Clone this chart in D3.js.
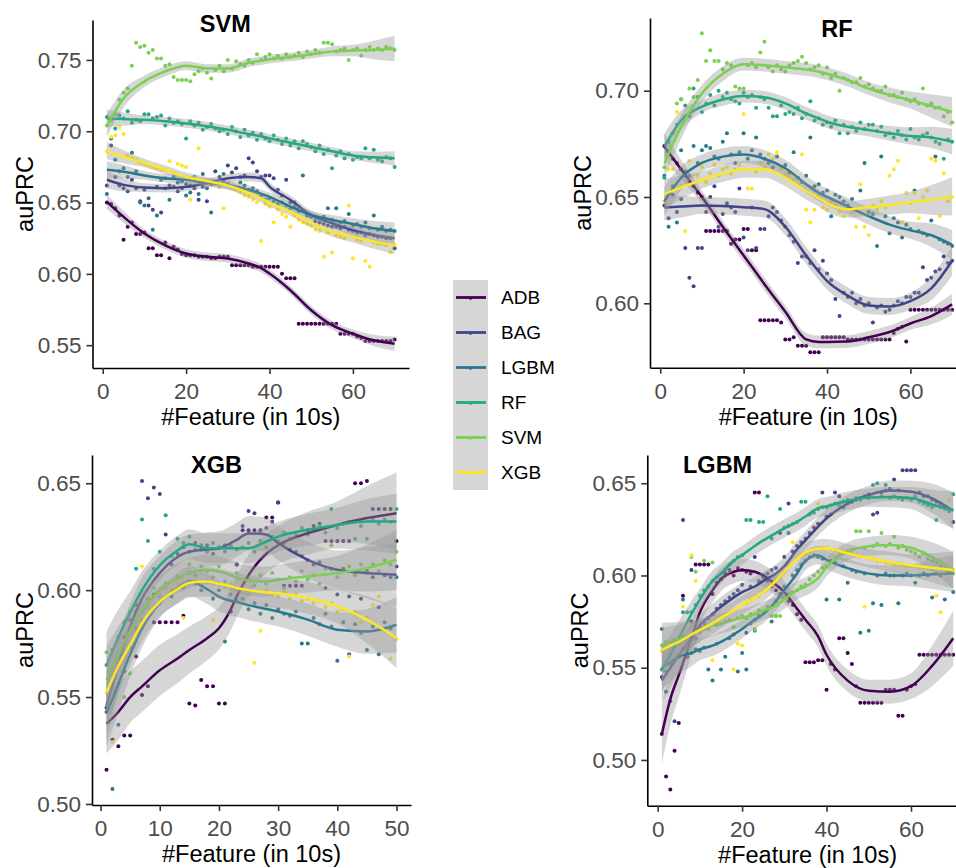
<!DOCTYPE html>
<html>
<head>
<meta charset="utf-8">
<script src="https://cdn.jsdelivr.net/npm/d3@7"></script>
<style>
  body { margin: 0; background: #fff; }
  svg { display: block; font-family: 'Liberation Sans', Arial, sans-serif; }
</style>
</head>
<body>
<div id="chart"></div>
<script>
// model names and their viridis colours
const series = ['ADB', 'BAG', 'LGBM', 'RF', 'SVM', 'XGB']
const colors = ['#440154', '#414487', '#2A788E', '#22A884', '#7AD151', '#FDE725']

// ---------- SVM panel: auPRC per #feature (1..70) ----------
const svmPoints = {
  ADB: [0.650,0.649,0.646,0.641,0.624,0.633,0.636,0.628,0.628,0.629,
        0.618,0.618,0.613,0.613,0.622,0.611,0.619,0.617,0.614,0.613,
        0.613,0.613,0.612,0.612,0.612,0.611,0.611,0.612,0.612,0.612,
        0.606,0.606,0.606,0.606,0.606,0.605,0.605,0.605,0.605,0.605,
        0.605,0.605,0.600,0.597,0.597,0.597,0.565,0.565,0.565,0.565,
        0.565,0.565,0.565,0.565,0.565,0.565,0.558,0.558,0.558,0.558,
        0.556,0.555,0.553,0.553,0.553,0.553,0.553,0.553,0.553,0.554],
  BAG: [0.662,0.690,0.668,0.662,0.660,0.658,0.666,0.660,0.651,0.659,
        0.648,0.645,0.661,0.643,0.660,0.662,0.661,0.658,0.660,0.663,
        0.662,0.660,0.652,0.661,0.651,0.663,0.672,0.668,0.665,0.676,
        0.671,0.674,0.668,0.669,0.681,0.678,0.672,0.668,0.669,0.669,
        0.667,0.659,0.655,0.666,0.650,0.650,0.647,0.644,0.641,0.640,
        0.637,0.636,0.635,0.634,0.633,0.633,0.632,0.633,0.631,0.630,
        0.629,0.629,0.627,0.628,0.627,0.626,0.626,0.625,0.625,0.618],
  LGBM: [0.656,0.695,0.680,0.672,0.674,0.668,0.685,0.672,0.650,0.648,
        0.653,0.631,0.641,0.666,0.667,0.652,0.668,0.664,0.665,0.655,
        0.657,0.668,0.656,0.670,0.660,0.643,0.664,0.661,0.670,0.663,
        0.661,0.660,0.664,0.662,0.659,0.660,0.658,0.655,0.652,0.653,
        0.651,0.649,0.650,0.648,0.646,0.647,0.644,0.669,0.642,0.641,
        0.640,0.639,0.640,0.646,0.638,0.646,0.636,0.637,0.642,0.634,
        0.635,0.633,0.636,0.632,0.641,0.631,0.633,0.630,0.631,0.630],
  RF: [0.710,0.708,0.702,0.711,0.709,0.714,0.706,0.708,0.707,0.712,
        0.712,0.709,0.710,0.711,0.704,0.709,0.706,0.707,0.705,0.695,
        0.707,0.704,0.706,0.701,0.703,0.705,0.702,0.700,0.701,0.698,
        0.703,0.700,0.696,0.701,0.697,0.699,0.694,0.698,0.695,0.693,
        0.697,0.694,0.691,0.695,0.690,0.693,0.688,0.693,0.691,0.689,
        0.686,0.690,0.684,0.687,0.674,0.683,0.686,0.681,0.684,0.680,
        0.682,0.681,0.688,0.681,0.687,0.680,0.679,0.682,0.681,0.675],
  SVM: [0.704,0.708,0.712,0.722,0.727,0.730,0.746,0.762,0.759,0.760,
        0.755,0.757,0.751,0.751,0.746,0.747,0.738,0.736,0.736,0.736,
        0.735,0.740,0.742,0.744,0.741,0.737,0.743,0.746,0.742,0.750,
        0.744,0.749,0.747,0.746,0.750,0.748,0.754,0.750,0.752,0.754,
        0.751,0.753,0.751,0.754,0.752,0.753,0.755,0.752,0.756,0.754,
        0.757,0.755,0.762,0.762,0.761,0.756,0.757,0.758,0.750,0.757,
        0.758,0.753,0.757,0.759,0.757,0.758,0.757,0.759,0.758,0.757],
  XGB: [0.686,0.696,0.697,0.703,0.698,0.683,0.681,0.680,0.678,0.677,
        0.676,0.675,0.674,0.673,0.673,0.679,0.671,0.677,0.676,0.675,
        0.652,0.667,0.688,0.666,0.665,0.664,0.663,0.661,0.646,0.662,
        0.660,0.659,0.657,0.655,0.654,0.652,0.650,0.623,0.649,0.647,
        0.636,0.645,0.642,0.640,0.633,0.641,0.638,0.636,0.635,0.634,
        0.631,0.630,0.612,0.629,0.615,0.627,0.626,0.625,0.648,0.611,
        0.624,0.623,0.609,0.605,0.622,0.621,0.621,0.620,0.615,0.620]
}
// smoothed fit read at these feature counts
const svmKnots = [1,5,10,15,20,25,30,35,38,40,45,50,55,60,65,70]
const svmFit = {
  ADB: [0.6505,0.640,0.6283,0.620,0.6143,0.612,0.6108,0.6073,0.604,0.6002,0.5885,0.5745,0.564,0.558,0.5534,0.551],
  BAG: [0.666,0.6624,0.6605,0.660,0.661,0.6636,0.667,0.668,0.667,0.6612,0.6518,0.6413,0.6355,0.6308,0.6273,0.625],
  LGBM: [0.673,0.6716,0.669,0.667,0.6659,0.664,0.6624,0.659,0.656,0.654,0.6472,0.6413,0.6378,0.635,0.632,0.630],
  RF: [0.709,0.7085,0.708,0.707,0.7055,0.7035,0.701,0.698,0.6965,0.695,0.692,0.689,0.686,0.683,0.6817,0.681],
  SVM: [0.704,0.723,0.735,0.742,0.746,0.744,0.744,0.748,0.7495,0.7505,0.752,0.754,0.756,0.7566,0.757,0.758],
  XGB: [0.6864,0.682,0.6778,0.673,0.668,0.665,0.662,0.6567,0.653,0.650,0.6437,0.6357,0.6296,0.626,0.6226,0.620]
}
// half width of the confidence band
const svmSeKnots = [1,10,20,35,50,60,70]
const svmSe = {
  ADB: [0.005,0.003,0.003,0.003,0.003,0.003,0.005],
  BAG: [0.006,0.003,0.003,0.003,0.003,0.004,0.006],
  LGBM: [0.006,0.003,0.003,0.003,0.003,0.004,0.006],
  RF: [0.006,0.003,0.003,0.003,0.003,0.003,0.005],
  SVM: [0.008,0.004,0.003,0.003,0.003,0.004,0.009],
  XGB: [0.006,0.003,0.003,0.003,0.003,0.004,0.006]
}

// ---------- RF panel ----------
const rfPoints = {
  ADB: [0.674,0.671,0.668,0.666,0.663,0.660,0.657,0.655,0.652,0.650,
        0.634,0.634,0.634,0.634,0.634,0.634,0.628,0.630,0.630,0.635,
        0.635,0.625,0.625,0.592,0.592,0.592,0.592,0.592,0.591,0.583,
        0.583,0.584,0.580,0.580,0.580,0.577,0.577,0.577,0.584,0.584,
        0.584,0.584,0.584,0.584,0.583,0.583,0.583,0.583,0.583,0.583,
        0.583,0.583,0.583,0.583,0.583,0.586,0.588,0.589,0.582,0.597,
        0.597,0.597,0.597,0.597,0.597,0.597,0.597,0.597,0.597,0.597],
  BAG: [0.646,0.640,0.651,0.643,0.649,0.626,0.612,0.608,0.626,0.626,
        0.643,0.650,0.655,0.636,0.642,0.647,0.645,0.643,0.654,0.631,
        0.625,0.645,0.626,0.635,0.635,0.641,0.645,0.643,0.639,0.636,
        0.632,0.629,0.619,0.622,0.622,0.619,0.625,0.616,0.620,0.614,
        0.611,0.602,0.594,0.605,0.603,0.605,0.600,0.602,0.599,0.600,
        0.591,0.598,0.599,0.596,0.597,0.599,0.601,0.600,0.603,0.603,
        0.605,0.605,0.617,0.611,0.612,0.615,0.616,0.622,0.619,0.620],
  LGBM: [0.660,0.636,0.655,0.638,0.672,0.662,0.660,0.674,0.666,0.672,
        0.674,0.673,0.669,0.668,0.676,0.680,0.670,0.666,0.671,0.680,
        0.668,0.672,0.678,0.670,0.668,0.666,0.664,0.669,0.663,0.665,
        0.661,0.671,0.659,0.657,0.660,0.678,0.655,0.656,0.652,0.653,
        0.641,0.651,0.650,0.648,0.646,0.649,0.644,0.653,0.666,0.643,
        0.642,0.627,0.669,0.641,0.633,0.640,0.638,0.631,0.637,0.635,
        0.653,0.634,0.633,0.632,0.639,0.669,0.630,0.629,0.628,0.627],
  RF: [0.659,0.676,0.680,0.684,0.696,0.693,0.688,0.701,0.697,0.690,
        0.694,0.698,0.693,0.700,0.697,0.699,0.696,0.695,0.694,0.699,
        0.697,0.698,0.692,0.697,0.696,0.692,0.688,0.688,0.693,0.689,
        0.690,0.689,0.692,0.687,0.689,0.695,0.686,0.687,0.684,0.685,
        0.683,0.686,0.680,0.684,0.680,0.683,0.681,0.685,0.682,0.684,
        0.684,0.681,0.683,0.679,0.680,0.678,0.681,0.679,0.677,0.682,
        0.678,0.677,0.679,0.680,0.678,0.676,0.675,0.668,0.677,0.676],
  SVM: [0.664,0.670,0.680,0.694,0.696,0.688,0.701,0.697,0.705,0.727,
        0.714,0.719,0.714,0.714,0.710,0.713,0.712,0.702,0.701,0.701,
        0.712,0.713,0.711,0.718,0.723,0.711,0.709,0.712,0.710,0.709,
        0.712,0.713,0.714,0.716,0.713,0.710,0.711,0.712,0.708,0.711,
        0.706,0.708,0.700,0.706,0.705,0.704,0.704,0.706,0.702,0.703,
        0.701,0.700,0.700,0.702,0.698,0.698,0.697,0.699,0.696,0.695,
        0.696,0.694,0.701,0.693,0.694,0.692,0.692,0.688,0.690,0.685],
  XGB: [0.648,0.663,0.663,0.690,0.655,0.634,0.667,0.656,0.660,0.664,
        0.657,0.661,0.665,0.660,0.663,0.664,0.661,0.663,0.665,0.689,
        0.654,0.654,0.662,0.666,0.664,0.670,0.668,0.671,0.663,0.661,
        0.660,0.658,0.656,0.670,0.644,0.638,0.644,0.651,0.645,0.644,
        0.648,0.646,0.643,0.641,0.645,0.643,0.636,0.656,0.636,0.632,
        0.646,0.644,0.648,0.645,0.660,0.663,0.667,0.638,0.652,0.647,
        0.652,0.640,0.650,0.653,0.668,0.667,0.641,0.661,0.648,0.650]
}
const rfKnots = [1,5,10,15,20,25,30,35,38,40,45,50,55,60,65,70]
const rfFit = {
  ADB: [0.6737,0.663,0.650,0.636,0.6225,0.609,0.596,0.583,0.5818,0.5818,0.582,0.584,0.5865,0.5905,0.594,0.5995],
  BAG: [0.645,0.6455,0.646,0.6458,0.6452,0.6443,0.636,0.6225,0.615,0.6105,0.6036,0.599,0.5985,0.601,0.607,0.620],
  LGBM: [0.648,0.659,0.666,0.669,0.670,0.668,0.6635,0.656,0.652,0.650,0.6455,0.641,0.637,0.6343,0.632,0.6275],
  RF: [0.6737,0.686,0.6925,0.6959,0.6975,0.6969,0.694,0.6893,0.687,0.6854,0.683,0.6815,0.680,0.6787,0.678,0.676],
  SVM: [0.6658,0.683,0.6987,0.708,0.7125,0.712,0.711,0.710,0.709,0.708,0.705,0.701,0.698,0.6956,0.6928,0.690],
  XGB: [0.6514,0.6545,0.658,0.661,0.663,0.663,0.659,0.6528,0.6495,0.647,0.6442,0.6452,0.6462,0.6475,0.6487,0.6503]
}
const rfSeKnots = [1,10,20,35,50,60,70]
const rfSe = {
  ADB: [0.006,0.003,0.003,0.003,0.003,0.003,0.005],
  BAG: [0.006,0.004,0.004,0.004,0.004,0.004,0.007],
  LGBM: [0.007,0.004,0.004,0.004,0.004,0.004,0.007],
  RF: [0.006,0.003,0.003,0.003,0.003,0.004,0.006],
  SVM: [0.007,0.004,0.003,0.003,0.003,0.004,0.007],
  XGB: [0.007,0.004,0.004,0.004,0.004,0.005,0.009]
}

// ---------- XGB panel (1..50) ----------
const xgbPoints = {
  ADB: [0.516,0.530,0.527,0.532,0.532,0.569,0.551,0.555,0.585,0.585,
        0.585,0.585,0.585,0.588,0.547,0.546,0.558,0.555,0.555,0.547,
        0.547,0.590,0.612,0.628,0.628,0.628,0.628,0.634,0.634,0.641,
        0.602,0.602,0.602,0.602,0.628,0.630,0.631,0.623,0.623,0.623,
        0.623,0.623,0.650,0.650,0.651,0.638,0.638,0.638,0.638,0.623],
  BAG: [0.545,0.558,0.570,0.578,0.586,0.593,0.651,0.643,0.648,0.645,
        0.626,0.612,0.617,0.620,0.618,0.622,0.619,0.621,0.617,0.620,
        0.621,0.620,0.612,0.630,0.637,0.636,0.627,0.629,0.632,0.641,
        0.622,0.619,0.618,0.616,0.614,0.612,0.613,0.601,0.610,0.598,
        0.610,0.597,0.608,0.596,0.609,0.606,0.592,0.607,0.606,0.611],
  LGBM: [0.543,0.507,0.537,0.562,0.573,0.582,0.590,0.592,0.598,0.594,
        0.601,0.597,0.606,0.602,0.608,0.603,0.600,0.604,0.596,0.600,
        0.576,0.598,0.595,0.596,0.591,0.594,0.589,0.593,0.587,0.591,
        0.589,0.588,0.590,0.575,0.575,0.587,0.584,0.589,0.583,0.567,
        0.585,0.570,0.584,0.580,0.572,0.583,0.570,0.585,0.582,0.606],
  RF: [0.565,0.572,0.578,0.585,0.590,0.610,0.633,0.623,0.610,0.618,
        0.635,0.616,0.624,0.622,0.625,0.619,0.621,0.618,0.622,0.620,
        0.618,0.621,0.619,0.620,0.622,0.618,0.623,0.620,0.625,0.623,
        0.627,0.624,0.626,0.629,0.626,0.628,0.630,0.627,0.638,0.629,
        0.631,0.632,0.624,0.630,0.624,0.633,0.631,0.633,0.632,0.638],
  SVM: [0.571,0.572,0.566,0.550,0.561,0.590,0.586,0.596,0.601,0.597,
        0.603,0.600,0.606,0.601,0.612,0.607,0.611,0.609,0.606,0.611,
        0.604,0.603,0.608,0.601,0.605,0.602,0.607,0.603,0.608,0.605,
        0.601,0.606,0.604,0.609,0.605,0.607,0.603,0.610,0.621,0.606,
        0.609,0.611,0.607,0.612,0.608,0.612,0.609,0.614,0.612,0.618],
  XGB: [0.552,0.529,0.566,0.575,0.580,0.588,0.611,0.592,0.597,0.598,
        0.601,0.600,0.603,0.587,0.604,0.605,0.602,0.604,0.586,0.603,
        0.601,0.603,0.600,0.601,0.598,0.566,0.581,0.600,0.598,0.597,
        0.599,0.596,0.598,0.595,0.596,0.594,0.595,0.592,0.594,0.590,
        0.591,0.569,0.590,0.585,0.587,0.593,0.597,0.581,0.568,0.577]
}
const xgbKnots = [1,3,5,7,10,13,15,18,20,22,23,25,28,30,35,40,45,50]
const xgbFit = {
  ADB: [0.5375,0.543,0.550,0.555,0.5625,0.568,0.572,0.5775,0.5822,0.591,0.597,0.607,0.617,0.621,0.6266,0.6305,0.6337,0.636],
  BAG: [0.546,0.565,0.583,0.596,0.608,0.6155,0.618,0.619,0.6195,0.622,0.6235,0.6265,0.626,0.622,0.6142,0.6095,0.608,0.6072],
  LGBM: [0.5425,0.556,0.570,0.582,0.594,0.601,0.604,0.6005,0.597,0.595,0.5945,0.593,0.5912,0.590,0.5862,0.5815,0.5807,0.5838],
  RF: [0.5645,0.578,0.5895,0.600,0.6115,0.6185,0.6215,0.6196,0.6196,0.6196,0.6196,0.6196,0.6227,0.625,0.6282,0.6305,0.6321,0.6321],
  SVM: [0.558,0.570,0.581,0.590,0.600,0.6055,0.608,0.6095,0.6087,0.607,0.6058,0.6045,0.604,0.6049,0.6064,0.608,0.6103,0.6142],
  XGB: [0.552,0.5645,0.5745,0.5846,0.5945,0.6005,0.6035,0.604,0.603,0.6018,0.601,0.600,0.599,0.5986,0.5963,0.5924,0.5862,0.5776]
}
const xgbSeKnots = [1,5,10,20,30,40,50]
const xgbSe = {
  ADB: [0.014,0.012,0.012,0.010,0.009,0.011,0.019],
  BAG: [0.016,0.011,0.008,0.008,0.008,0.009,0.015],
  LGBM: [0.016,0.010,0.007,0.007,0.007,0.008,0.013],
  RF: [0.016,0.010,0.007,0.007,0.007,0.008,0.013],
  SVM: [0.016,0.010,0.007,0.007,0.007,0.008,0.014],
  XGB: [0.016,0.010,0.007,0.007,0.007,0.008,0.014]
}

// ---------- LGBM panel ----------
const lgbmPoints = {
  ADB: [0.514,0.491,0.484,0.505,0.520,0.589,0.556,0.575,0.606,0.606,
        0.606,0.606,0.590,0.596,0.598,0.601,0.603,0.600,0.604,0.603,
        0.602,0.601,0.645,0.645,0.600,0.597,0.594,0.592,0.590,0.588,
        0.586,0.584,0.579,0.576,0.553,0.553,0.553,0.554,0.554,0.538,
        0.552,0.549,0.566,0.566,0.558,0.552,0.540,0.531,0.531,0.531,
        0.531,0.531,0.531,0.538,0.538,0.538,0.524,0.524,0.538,0.540,
        0.541,0.557,0.557,0.557,0.557,0.557,0.557,0.557,0.557,0.557],
  BAG: [0.545,0.537,0.532,0.521,0.556,0.630,0.560,0.603,0.566,0.572,
        0.574,0.577,0.579,0.582,0.584,0.586,0.588,0.590,0.592,0.595,
        0.569,0.594,0.610,0.597,0.599,0.601,0.603,0.604,0.623,0.610,
        0.639,0.613,0.616,0.618,0.620,0.623,0.626,0.628,0.645,0.632,
        0.633,0.645,0.643,0.637,0.639,0.640,0.641,0.642,0.643,0.644,
        0.633,0.634,0.645,0.646,0.647,0.652,0.646,0.657,0.657,0.657,
        0.657,0.645,0.643,0.643,0.641,0.640,0.639,0.637,0.635,0.629],
  LGBM: [0.571,0.548,0.552,0.554,0.556,0.587,0.557,0.558,0.560,0.559,
        0.561,0.549,0.543,0.563,0.549,0.556,0.566,0.568,0.548,0.558,
        0.549,0.574,0.576,0.578,0.580,0.582,0.575,0.586,0.590,0.594,
        0.623,0.600,0.603,0.606,0.608,0.610,0.611,0.610,0.609,0.587,
        0.608,0.607,0.587,0.605,0.596,0.603,0.602,0.569,0.601,0.570,
        0.585,0.600,0.584,0.601,0.600,0.600,0.585,0.600,0.601,0.600,
        0.596,0.600,0.601,0.600,0.588,0.601,0.600,0.587,0.602,0.591],
  RF: [0.549,0.553,0.557,0.562,0.566,0.580,0.580,0.580,0.584,0.589,
        0.592,0.594,0.597,0.599,0.601,0.603,0.606,0.608,0.610,0.611,
        0.630,0.630,0.570,0.629,0.629,0.643,0.620,0.578,0.636,0.626,
        0.627,0.628,0.629,0.640,0.640,0.633,0.634,0.636,0.637,0.637,
        0.638,0.639,0.638,0.640,0.641,0.640,0.642,0.641,0.643,0.642,
        0.649,0.650,0.643,0.649,0.642,0.643,0.642,0.641,0.642,0.641,
        0.643,0.640,0.639,0.638,0.637,0.630,0.637,0.636,0.635,0.644],
  SVM: [0.562,0.564,0.563,0.565,0.566,0.567,0.565,0.610,0.602,0.569,
        0.608,0.571,0.607,0.573,0.574,0.575,0.576,0.572,0.577,0.578,
        0.577,0.579,0.571,0.581,0.580,0.583,0.578,0.578,0.578,0.588,
        0.590,0.591,0.592,0.594,0.595,0.598,0.600,0.602,0.604,0.605,
        0.607,0.609,0.611,0.612,0.613,0.614,0.624,0.624,0.615,0.624,
        0.616,0.617,0.623,0.616,0.617,0.621,0.615,0.616,0.614,0.613,
        0.612,0.610,0.612,0.609,0.608,0.607,0.605,0.604,0.603,0.601],
  XGB: [0.559,0.561,0.562,0.563,0.564,0.583,0.566,0.611,0.597,0.570,
        0.571,0.573,0.554,0.575,0.577,0.578,0.580,0.549,0.563,0.562,
        0.585,0.587,0.588,0.589,0.591,0.593,0.595,0.597,0.599,0.602,
        0.605,0.618,0.609,0.611,0.612,0.613,0.614,0.639,0.615,0.615,
        0.614,0.614,0.613,0.613,0.612,0.612,0.611,0.610,0.583,0.609,
        0.609,0.608,0.608,0.607,0.607,0.606,0.606,0.606,0.605,0.605,
        0.605,0.604,0.604,0.604,0.603,0.589,0.580,0.603,0.641,0.603]
}
const lgbmKnots = [1,3,5,8,10,13,15,18,20,23,25,28,30,33,35,38,40,45,50,55,60,65,70]
const lgbmFit = {
  ADB: [0.514,0.533,0.546,0.566,0.580,0.592,0.598,0.602,0.603,0.602,0.600,0.595,0.591,0.582,0.576,0.567,0.557,0.543,0.5375,0.537,0.540,0.551,0.566],
  BAG: [0.543,0.550,0.557,0.566,0.573,0.579,0.583,0.588,0.591,0.594,0.597,0.601,0.605,0.614,0.619,0.6265,0.631,0.639,0.6436,0.646,0.6454,0.6418,0.635],
  LGBM: [0.550,0.553,0.556,0.558,0.560,0.562,0.564,0.568,0.571,0.576,0.579,0.586,0.592,0.601,0.608,0.611,0.6085,0.604,0.601,0.600,0.600,0.6006,0.601],
  RF: [0.549,0.557,0.566,0.579,0.587,0.597,0.601,0.608,0.611,0.616,0.619,0.623,0.6255,0.629,0.632,0.6365,0.6375,0.6405,0.6423,0.6425,0.642,0.6385,0.6355],
  SVM: [0.5623,0.564,0.5655,0.568,0.570,0.573,0.574,0.5758,0.577,0.579,0.581,0.5835,0.587,0.592,0.594,0.5985,0.6045,0.613,0.6158,0.6165,0.615,0.610,0.603],
  XGB: [0.5596,0.562,0.564,0.568,0.5705,0.574,0.577,0.581,0.584,0.588,0.591,0.597,0.602,0.609,0.6125,0.6145,0.6147,0.612,0.6093,0.6073,0.6055,0.6042,0.6029]
}
const lgbmSeKnots = [1,10,20,35,50,60,70]
const lgbmSe = {
  ADB: [0.016,0.007,0.006,0.006,0.006,0.007,0.015],
  BAG: [0.012,0.006,0.005,0.005,0.005,0.006,0.010],
  LGBM: [0.012,0.006,0.005,0.005,0.005,0.006,0.010],
  RF: [0.012,0.006,0.005,0.005,0.005,0.006,0.010],
  SVM: [0.012,0.006,0.005,0.005,0.005,0.006,0.010],
  XGB: [0.012,0.006,0.005,0.005,0.005,0.006,0.010]
}

// tick labels
const ticks70 = [0, 20, 40, 60]
const ticks50 = [0, 10, 20, 30, 40, 50]
const svmYTicks = [0.55, 0.60, 0.65, 0.70, 0.75]
const rfYTicks = [0.60, 0.65, 0.70]
const lowYTicks = [0.50, 0.55, 0.60, 0.65]

const panels = [
  { title: 'SVM', points: svmPoints, knots: svmKnots, fit: svmFit, seKnots: svmSeKnots, se: svmSe,
    xDomain: [-2.45, 73.45], yDomain: [0.534, 0.778], xTicks: ticks70, yTicks: svmYTicks,
    titleAt: [29.4, 0.7751], box: { left: 92.5, top: 20, width: 316.5, height: 348 } },
  { title: 'RF', points: rfPoints, knots: rfKnots, fit: rfFit, seKnots: rfSeKnots, se: rfSe,
    xDomain: [-2.45, 73.45], yDomain: [0.5697, 0.7342], xTicks: ticks70, yTicks: rfYTicks,
    titleAt: [42.4, 0.7291], box: { left: 650, top: 18, width: 316.5, height: 349.7 } },
  { title: 'XGB', points: xgbPoints, knots: xgbKnots, fit: xgbFit, seKnots: xgbSeKnots, se: xgbSe,
    xDomain: [-1.45, 52.45], yDomain: [0.4995, 0.6632], xTicks: ticks50, yTicks: lowYTicks,
    titleAt: [19.6, 0.6585], box: { left: 92, top: 455, width: 319, height: 350 } },
  { title: 'LGBM', points: lgbmPoints, knots: lgbmKnots, fit: lgbmFit, seKnots: lgbmSeKnots, se: lgbmSe,
    xDomain: [-2.45, 73.45], yDomain: [0.4752, 0.6653], xTicks: ticks70, yTicks: lowYTicks,
    titleAt: [14.2, 0.6599], box: { left: 647.3, top: 455, width: 320.5, height: 350.7 } }
]

const width = 956
const height = 868

const svg = d3
  .select('#chart')
  .append('svg')
  .attr('width', width)
  .attr('height', height)

const drawPanel = (p) => {
  const { box } = p
  const ctr = svg.append('g').attr('transform', `translate(${box.left}, ${box.top})`)

  const xScale = d3.scaleLinear().domain(p.xDomain).range([0, box.width])
  const yScale = d3.scaleLinear().domain(p.yDomain).range([box.height, 0])

  // raw points first, like geom_point under geom_smooth
  series.forEach((s, i) => {
    ctr
      .append('g')
      .selectAll('circle')
      .data(p.points[s])
      .join('circle')
      .attr('cx', (d, j) => xScale(j + 1))
      .attr('cy', (d) => yScale(d))
      .attr('r', 2)
      .attr('fill', colors[i])
  })

  // ribbon then line for each model
  series.forEach((s, i) => {
    const seScale = d3.scaleLinear().domain(p.seKnots).range(p.se[s])
    const fitData = p.knots.map((k, j) => ({ x: k, y: p.fit[s][j], se: seScale(k) }))

    const areaGenerator = d3
      .area()
      .x((d) => xScale(d.x))
      .y0((d) => yScale(d.y - d.se))
      .y1((d) => yScale(d.y + d.se))
      .curve(d3.curveMonotoneX)

    const lineGenerator = d3
      .line()
      .x((d) => xScale(d.x))
      .y((d) => yScale(d.y))
      .curve(d3.curveMonotoneX)

    ctr
      .append('path')
      .datum(fitData)
      .attr('d', areaGenerator)
      .attr('fill', '#999999')
      .attr('fill-opacity', 0.4)

    ctr
      .append('path')
      .datum(fitData)
      .attr('d', lineGenerator)
      .attr('fill', 'none')
      .attr('stroke', colors[i])
      .attr('stroke-width', 2.5)
  })

  // axes
  const yAxis = d3
    .axisLeft(yScale)
    .tickValues(p.yTicks)
    .tickFormat(d3.format('.2f'))
    .tickSize(6)
    .tickSizeOuter(0)
    .tickPadding(5)
  const yAxisGroup = ctr.append('g').call(yAxis)

  const xAxis = d3
    .axisBottom(xScale)
    .tickValues(p.xTicks)
    .tickSize(6)
    .tickSizeOuter(0)
    .tickPadding(9)
  const xAxisGroup = ctr
    .append('g')
    .attr('transform', `translate(0, ${box.height})`)
    .call(xAxis)

  ;[xAxisGroup, yAxisGroup].forEach((g) => {
    g.select('.domain').attr('stroke', '#000').attr('stroke-width', 1.6)
    g.selectAll('.tick line').attr('stroke', '#333').attr('stroke-width', 1.6)
    g.selectAll('.tick text')
      .attr('fill', '#4D4D4D')
      .style('font-size', '22.5px')
      .style('font-family', "'Liberation Sans', Arial, sans-serif")
  })

  // axis titles
  ctr
    .append('text')
    .attr('transform', `translate(${-67.5}, ${box.height / 2}) rotate(-90)`)
    .attr('text-anchor', 'middle')
    .attr('dy', '0.35em')
    .style('font-size', '23.5px')
    .attr('fill', '#000')
    .text('auPRC')

  ctr
    .append('text')
    .attr('x', xScale((p.xTicks[0] + p.xDomain[1] + p.xDomain[0]) / 2))
    .attr('y', box.height + 49)
    .attr('text-anchor', 'middle')
    .attr('dy', '0.35em')
    .style('font-size', '23.5px')
    .attr('fill', '#000')
    .text('#Feature (in 10s)')

  // panel title
  ctr
    .append('text')
    .attr('x', xScale(p.titleAt[0]))
    .attr('y', yScale(p.titleAt[1]))
    .attr('text-anchor', 'middle')
    .attr('dy', '0.35em')
    .style('font-size', '23.5px')
    .style('font-weight', 'bold')
    .attr('fill', '#000')
    .text(p.title)
}

panels.forEach(drawPanel)

// legend in the middle
const legend = svg.append('g').attr('transform', 'translate(453, 280)')
const keySize = 35

legend
  .selectAll('rect')
  .data(series)
  .join('rect')
  .attr('x', 0)
  .attr('y', (d, i) => i * keySize)
  .attr('width', keySize)
  .attr('height', keySize)
  .attr('fill', '#999999')
  .attr('fill-opacity', 0.4)

legend
  .selectAll('line')
  .data(series)
  .join('line')
  .attr('x1', 3)
  .attr('x2', keySize - 2)
  .attr('y1', (d, i) => i * keySize + keySize / 2)
  .attr('y2', (d, i) => i * keySize + keySize / 2)
  .attr('stroke', (d, i) => colors[i])
  .attr('stroke-width', 2.8)

legend
  .selectAll('circle')
  .data(series)
  .join('circle')
  .attr('cx', keySize / 2)
  .attr('cy', (d, i) => i * keySize + keySize / 2 + 1)
  .attr('r', 1.4)
  .attr('fill', (d, i) => colors[i])

legend
  .selectAll('text')
  .data(series)
  .join('text')
  .attr('x', 48)
  .attr('y', (d, i) => i * keySize + keySize / 2)
  .attr('dy', '0.35em')
  .style('font-size', '19px')
  .attr('fill', '#000')
  .text((d) => d)
</script>
</body>
</html>
